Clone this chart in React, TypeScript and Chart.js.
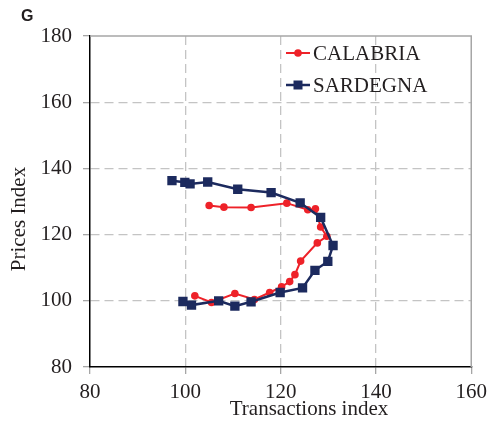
import { useEffect, useRef } from "react";
import { Chart, registerables } from "chart.js";

Chart.register(...registerables);

// CALABRIA path (transactions index, prices index)
const calabriaX = [105.0, 108.1, 113.8, 121.3, 125.7, 127.3, 128.4, 129.7, 127.7, 124.2, 123.0, 121.9, 120.2, 117.7, 114.5, 110.4, 105.5, 102.0];
const calabriaY = [128.8, 128.3, 128.2, 129.5, 127.5, 127.8, 122.3, 119.5, 117.5, 112.0, 107.9, 105.8, 104.2, 102.5, 100.4, 102.2, 99.5, 101.5];

// SARDEGNA path
const sardegnaX = [97.2, 99.9, 101.0, 104.7, 111.0, 118.0, 124.1, 128.4, 131.0, 129.9, 127.2, 124.6, 119.9, 113.8, 110.4, 107.0, 101.3, 99.5];
const sardegnaY = [136.3, 135.8, 135.3, 135.9, 133.7, 132.7, 129.6, 125.2, 116.7, 111.9, 109.2, 103.9, 102.5, 99.7, 98.4, 100.0, 98.7, 99.8];

const xTicks = [80, 100, 120, 140, 160];
const yTicks = [80, 100, 120, 140, 160, 180];

const seriesNames = ["CALABRIA", "SARDEGNA"];
const RED = "#ee2229";
const NAVY = "#1c2a5e";
const GRID = "#c4c4c4";
const TEXT = "#231f20";
const SERIF = "'Liberation Serif', 'Times New Roman', serif";

const toPoints = (xs: number[], ys: number[]) => xs.map((x, i) => ({ x, y: ys[i] }));

const overlay = {
  id: "overlay",
  beforeDatasetsDraw(chart: any) {
    const { ctx, chartArea: a } = chart;
    ctx.save();
    ctx.strokeStyle = "#a6a6a6";
    ctx.lineWidth = 1.5;
    ctx.beginPath();
    ctx.moveTo(a.left, a.top);
    ctx.lineTo(a.right, a.top);
    ctx.lineTo(a.right, a.bottom);
    ctx.stroke();
    ctx.restore();
  },
  afterDraw(chart: any) {
    const { ctx } = chart;
    ctx.save();
    // panel letter
    ctx.fillStyle = "#231f20";
    ctx.font = "bold 16px 'Liberation Sans', Arial, sans-serif";
    ctx.textAlign = "left";
    ctx.textBaseline = "alphabetic";
    ctx.fillText("G", 21, 21);

    // axis titles
    ctx.fillStyle = TEXT;
    ctx.font = `21px ${SERIF}`;
    ctx.textAlign = "center";
    ctx.fillText("Transactions index", 309, 415);
    ctx.save();
    ctx.translate(25, 219);
    ctx.rotate(-Math.PI / 2);
    ctx.fillText("Prices Index", 0, 0);
    ctx.restore();

    // legend
    const entries = [
      { label: seriesNames[0], color: RED, y: 53, shape: "circle" },
      { label: seriesNames[1], color: NAVY, y: 85, shape: "rect" },
    ];
    for (const e of entries) {
      ctx.strokeStyle = e.color;
      ctx.fillStyle = e.color;
      ctx.lineWidth = e.shape === "circle" ? 2 : 2.5;
      ctx.beginPath();
      ctx.moveTo(286, e.y);
      ctx.lineTo(310, e.y);
      ctx.stroke();
      if (e.shape === "circle") {
        ctx.beginPath();
        ctx.arc(298, e.y, 3.8, 0, Math.PI * 2);
        ctx.fill();
      } else {
        ctx.fillRect(293.5, e.y - 4.5, 9, 9);
      }
      ctx.fillStyle = TEXT;
      ctx.font = `21px ${SERIF}`;
      ctx.textAlign = "left";
      ctx.textBaseline = "middle";
      ctx.fillText(e.label, 313, e.y + 1);
    }
    ctx.restore();
  },
};

export default function App() {
  const ref = useRef<HTMLCanvasElement | null>(null);

  useEffect(() => {
    if (!ref.current) return;
    const edgeless = (lo: number, hi: number) => (c: any) =>
      c.tick && (c.tick.value === lo || c.tick.value === hi) ? "rgba(0,0,0,0)" : GRID;

    const chart = new Chart(ref.current, {
      type: "scatter",
      data: {
        datasets: [
          {
            label: seriesNames[0],
            data: toPoints(calabriaX, calabriaY),
            showLine: true,
            borderColor: RED,
            backgroundColor: RED,
            borderWidth: 2,
            pointStyle: "circle",
            pointRadius: 3.8,
            pointBorderWidth: 0,
            order: 2,
          },
          {
            label: seriesNames[1],
            data: toPoints(sardegnaX, sardegnaY),
            showLine: true,
            borderColor: NAVY,
            backgroundColor: NAVY,
            borderWidth: 2.5,
            pointStyle: "rect",
            pointRadius: 6.6,
            pointBorderWidth: 0,
            order: 1,
          },
        ],
      },
      options: {
        responsive: false,
        animation: false,
        layout: { padding: { top: 36, right: 18, left: 0, bottom: 0 } },
        plugins: { legend: { display: false }, tooltip: { enabled: false } },
        scales: {
          x: {
            type: "linear",
            min: xTicks[0],
            max: xTicks[xTicks.length - 1],
            afterBuildTicks: (s: any) => {
              s.ticks = xTicks.map((v) => ({ value: v }));
            },
            afterFit: (s: any) => {
              s.height = 58;
            },
            ticks: {
              color: TEXT,
              font: { family: SERIF, size: 21 },
              padding: 6,
            },
            grid: {
              color: edgeless(80, 160),
              lineWidth: 1.3,
              tickColor: "#a6a6a6",
              tickLength: 7,
            },
            border: { display: true, color: "#000", width: 1.5, dash: [9, 5] },
          },
          y: {
            type: "linear",
            min: yTicks[0],
            max: yTicks[yTicks.length - 1],
            afterBuildTicks: (s: any) => {
              s.ticks = yTicks.map((v) => ({ value: v }));
            },
            afterFit: (s: any) => {
              s.width = 90;
            },
            ticks: {
              color: TEXT,
              font: { family: SERIF, size: 21 },
              padding: 11,
            },
            grid: {
              color: edgeless(80, 180),
              lineWidth: 1.3,
              tickColor: "#a6a6a6",
              tickLength: 7,
            },
            border: { display: true, color: "#000", width: 1.5, dash: [9, 5] },
          },
        },
      },
      plugins: [overlay],
    });
    return () => chart.destroy();
  }, []);

  return (
    <div style={{ position: "absolute", left: 0, top: 0, width: 493, height: 425, background: "#fff" }}>
      <canvas ref={ref} width={493} height={425} />
    </div>
  );
}
